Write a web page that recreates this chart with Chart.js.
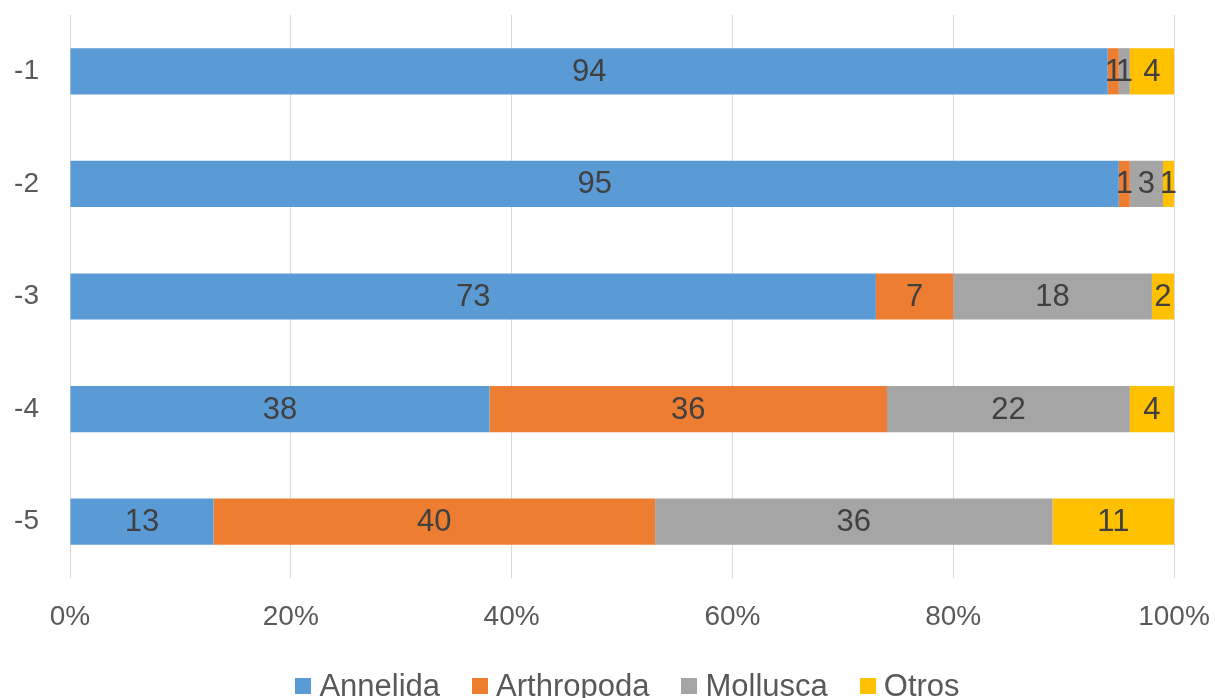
<!DOCTYPE html>
<html>
<head>
<meta charset="utf-8">
<script src="https://cdn.jsdelivr.net/npm/chart.js@4/dist/chart.umd.min.js"></script>
<style>
  html, body { margin: 0; padding: 0; background: #fff; }
  #wrap { position: relative; width: 1215px; height: 698px; }
  #legend {
    position: absolute; left: 0; top: 667px; width: 1215px; height: 38px; box-sizing: border-box;
    padding-left: 40px; display: flex; justify-content: center; align-items: center;
    font-family: "Liberation Sans", Arial, sans-serif; font-size: 31px; color: #595959;
  }
  #legend .item { display: flex; align-items: center; margin: 0 16px; }
  #legend .box { width: 16px; height: 16px; margin-right: 8px; }
</style>
</head>
<body>
<div id="wrap">
  <canvas id="chart" width="1215" height="698"></canvas>
  <div id="legend"></div>
</div>
<script>
const categories = ['-1', '-2', '-3', '-4', '-5'];
const seriesNames = ['Annelida', 'Arthropoda', 'Mollusca', 'Otros'];
const annelida   = [94, 95, 73, 38, 13];
const arthropoda = [1, 1, 7, 36, 40];
const mollusca   = [1, 3, 18, 22, 36];
const otros      = [4, 1, 2, 4, 11];
const seriesColors = ['#5B9BD5', '#ED7D31', '#A5A5A5', '#FFC000'];
const xTicks = [0, 20, 40, 60, 80, 100];

const FONT = '"Liberation Sans", Arial, sans-serif';

// valores dentro de cada segmento
const valueLabels = {
    id: 'valueLabels',
    afterDatasetsDraw(chart) {
        const ctx = chart.ctx;
        ctx.save();
        ctx.font = '31px ' + FONT;
        ctx.fillStyle = '#404040';
        ctx.textAlign = 'center';
        ctx.textBaseline = 'middle';
        chart.data.datasets.forEach((ds, i) => {
            const meta = chart.getDatasetMeta(i);
            meta.data.forEach((bar, j) => {
                const p = bar.getCenterPoint();
                ctx.fillText(String(ds.data[j]), p.x, p.y + 1);
            });
        });
        ctx.restore();
    }
};

const seriesData = [annelida, arthropoda, mollusca, otros];

new Chart(document.getElementById('chart'), {
    type: 'bar',
    data: {
        labels: categories,
        datasets: seriesNames.map((name, i) => ({
            label: name,
            data: seriesData[i],
            backgroundColor: seriesColors[i],
            borderWidth: 0,
            barPercentage: 0.41,
            categoryPercentage: 1
        }))
    },
    options: {
        indexAxis: 'y',
        responsive: false,
        animation: false,
        layout: { padding: { left: 0, right: 41, top: 15, bottom: 40 } },
        scales: {
            x: {
                stacked: true,
                min: 0,
                max: 100,
                afterBuildTicks: scale => { scale.ticks = xTicks.map(v => ({ value: v })); },
                afterFit: scale => {
                    scale.paddingLeft = 0;
                    scale.paddingRight = 0;
                    scale.height = 80;
                },
                grid: { color: '#D9D9D9', drawTicks: false },
                border: { display: false },
                ticks: {
                    padding: 22,
                    color: '#595959',
                    font: { family: FONT, size: 28 },
                    callback: v => v + '%'
                }
            },
            y: {
                stacked: true,
                grid: { display: false },
                border: { display: false },
                afterFit: scale => {
                    scale.width = 70;
                    scale.paddingTop = 0;
                    scale.paddingBottom = 0;
                },
                ticks: {
                    padding: 23,
                    color: '#595959',
                    font: { family: FONT, size: 28 }
                }
            }
        },
        plugins: {
            legend: { display: false },
            tooltip: { enabled: false }
        }
    },
    plugins: [valueLabels]
});

// leyenda
const legendEl = document.getElementById('legend');
legendEl.innerHTML = seriesNames.map((name, i) => `
    <div class="item"><span class="box" style="background:${seriesColors[i]}"></span>${name}</div>
`).join('');
</script>
</body>
</html>
